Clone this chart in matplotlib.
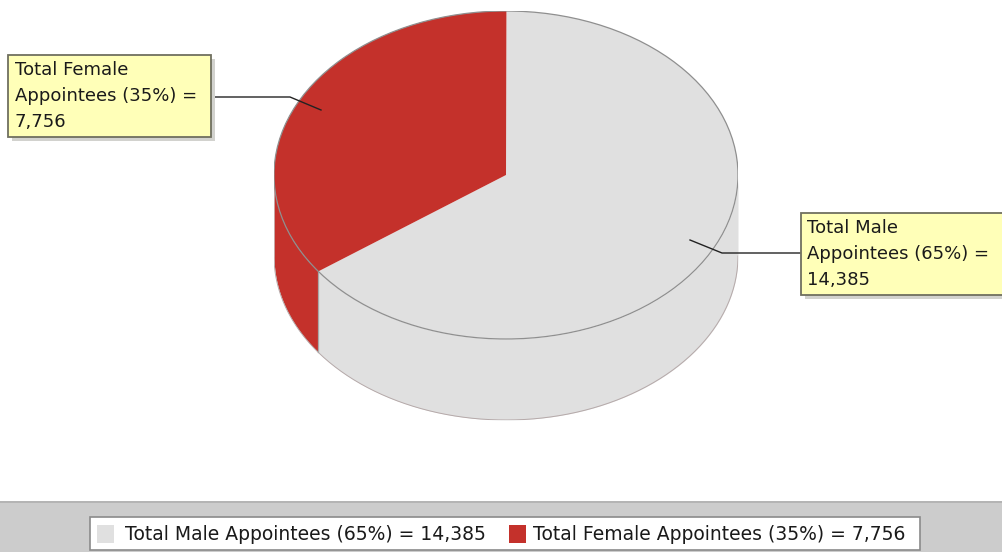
import numpy as np
import matplotlib
matplotlib.use("Agg")
import matplotlib.pyplot as plt
from matplotlib.patches import Rectangle, Ellipse

plt.rcParams["font.family"] = ["DejaVu Sans"]

categories = ["Total Male Appointees", "Total Female Appointees"]
values = [14385, 7756]
colors = ["#e0e0e0", "#c4312b"]
start_angle = 216

W, H = 1002, 552
CX, CY, RX, RY, DEPTH = 506, 175, 232, 164, 81
EDGE = "#8f8f8f"
FS_BOX = 13
FS_LEG = 13.5

total = sum(values)
labels = [f"{c} ({round(100 * v / total)}%) = {v:,}" for c, v in zip(categories, values)]

fig = plt.figure(figsize=(W / 100, H / 100), dpi=100, facecolor="white")

# pie axes
d = DEPTH / RY
ax = fig.add_axes([(CX - RX) / W, 1 - (CY + RY + DEPTH) / H, 2 * RX / W, (2 * RY + DEPTH) / H])
ax.axis("off")
wedges, _ = ax.pie(values, colors=colors, startangle=start_angle, counterclock=True, radius=1,
                   wedgeprops=dict(edgecolor="none", linewidth=0, zorder=5))
ax.set_aspect("auto")
ax.set_xlim(-1, 1)
ax.set_ylim(-1 - d, 1)
ax.add_patch(Ellipse((0, 0), 2, 2, fc="none", ec=EDGE, lw=0.9, zorder=6))

# side wall, taken from the same wedge angles
for w, col in zip(wedges, colors):
    a0, a1 = np.radians([w.theta1, w.theta2])
    for shift in (-2 * np.pi, 0, 2 * np.pi):
        lo, hi = max(a0 + shift, np.pi), min(a1 + shift, 2 * np.pi)
        if hi > lo:
            t = np.linspace(lo, hi, 200)
            xs, ys = np.cos(t), np.sin(t)
            ax.fill_between(xs, ys - d, ys, color=col, linewidth=0, zorder=2)
            ax.plot(xs, ys - d, color="#b5a9a9", lw=0.7, zorder=3)
ax.plot([-1, -1], [0, -d], color="#c9a5a3", lw=0.7, zorder=3)
ax.plot([1, 1], [0, -d], color="#c4c4c4", lw=0.7, zorder=3)
xb = np.cos(np.radians(start_angle))
yb = np.sin(np.radians(start_angle))
ax.plot([xb, xb], [yb, yb - d], color="#a8a8a8", lw=0.9, zorder=4)

# overlay in pixel coordinates
ov = fig.add_axes([0, 0, 1, 1], facecolor="none")
ov.set_xlim(0, W)
ov.set_ylim(H, 0)
ov.axis("off")


def callout(x0, y0, x1, y1, text_x, lines, pts):
    ov.plot(*zip(*pts), color="#222222", lw=1.0, zorder=3)
    ov.add_patch(Rectangle((x0 + 4, y0 + 4), x1 - x0, y1 - y0, fc="#d2d2ce", ec="none", zorder=4))
    ov.add_patch(Rectangle((x0, y0), x1 - x0, y1 - y0, fc="#ffffb8", ec="#6f6f5f", lw=1.3, zorder=5,
                           clip_on=False))
    for yy, s in zip((y0 + 15, y0 + 41, y0 + 67), lines):
        ov.text(text_x, yy, s, fontsize=FS_BOX, color="#1a1a1a", va="center", ha="left", zorder=6)


def split(label):
    head, tail = label.split(" = ")
    first, second = head.split(" Appointees")
    return [first, "Appointees" + second + " =", tail]


callout(8, 55, 211, 137, 15, split(labels[1]), [(215, 97), (290, 97), (321, 110)])
callout(801, 213, 1004, 295, 807, split(labels[0]), [(690, 240), (722, 253), (800, 253)])

# legend band
ov.add_patch(Rectangle((0, 501), W, 51, fc="#cccccc", ec="none", zorder=1))
ov.plot([0, W], [501.5, 501.5], color="#b0b0b0", lw=1.2, zorder=2)
ov.add_patch(Rectangle((90, 517), 830, 33, fc="white", ec="#8a8a8a", lw=1.2, zorder=2))
for sx, tx, col, lab in zip((97, 509), (125, 533), colors, labels):
    ov.add_patch(Rectangle((sx, 525), 17, 18, fc=col, ec="none", zorder=3))
    ov.text(tx, 534, lab, fontsize=FS_LEG, color="#1a1a1a", va="center", ha="left", zorder=3)

fig.savefig("out.png", dpi=100)
